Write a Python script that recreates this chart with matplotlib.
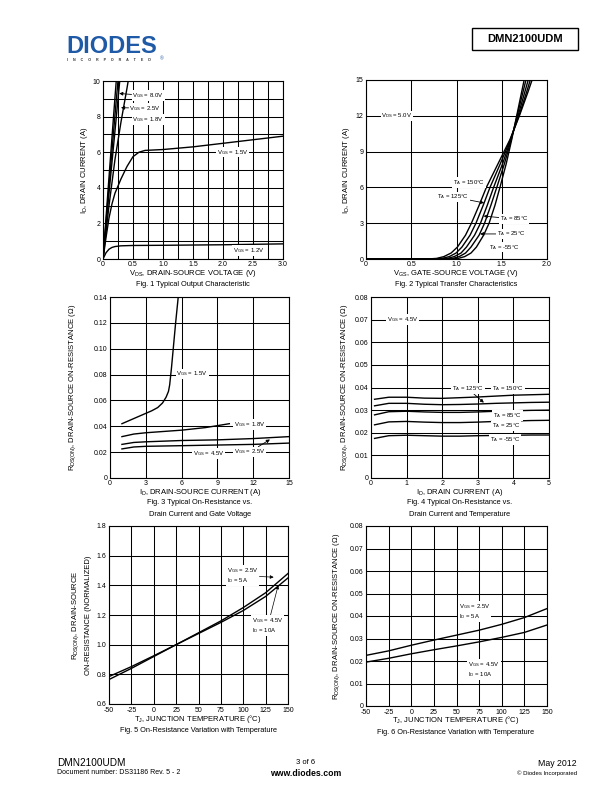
import matplotlib
matplotlib.use('Agg')
import matplotlib.pyplot as plt
from matplotlib.patches import Rectangle
from matplotlib.lines import Line2D
import numpy as np

plt.rcParams['font.family'] = ['Liberation Sans', 'DejaVu Sans']
plt.rcParams['mathtext.fontset'] = 'custom'
plt.rcParams['mathtext.rm'] = 'Liberation Sans'
plt.rcParams['mathtext.it'] = 'Liberation Sans:italic'
plt.rcParams['mathtext.bf'] = 'Liberation Sans:bold'

W, H = 612, 792

# ---- Fig 1: output characteristic (VDS in V, ID in A)
vds_8v0 = [0, 0.1, 0.2, 0.23]
id_8v0 = [0, 4.6, 9.1, 10.4]
vds_4v5 = [0, 0.1, 0.2, 0.26]
id_4v5 = [0, 4.1, 8.1, 10.4]
vds_2v5 = [0, 0.1, 0.2, 0.29]
id_2v5 = [0, 3.7, 7.2, 10.4]
vds_1v8 = [0, 0.1, 0.2, 0.3, 0.4, 0.44]
id_1v8 = [0, 3.0, 5.6, 7.7, 9.6, 10.4]
vds_1v5 = [0, 0.05, 0.1, 0.15, 0.2, 0.3, 0.4, 0.5, 0.6, 0.7, 1.0, 1.5, 2.0, 2.5, 3.0]
id_1v5 = [0, 1.2, 2.3, 3.1, 3.7, 4.5, 5.2, 5.75, 6.0, 6.1, 6.15, 6.3, 6.5, 6.7, 6.9]
vds_1v2 = [0, 0.05, 0.1, 0.15, 0.2, 0.3, 0.5, 1.0, 2.0, 3.0]
id_1v2 = [0, 0.35, 0.55, 0.65, 0.7, 0.74, 0.76, 0.77, 0.8, 0.85]

# ---- Fig 2: transfer characteristic (VGS in V at given ID)
id_levels = [0, 0, 0.05, 0.2, 0.5, 1, 2, 3, 4.5, 6, 8, 10, 12, 14, 16]
vgs_150c = [0, 0.68, 0.78, 0.86, 0.94, 1.01, 1.10, 1.165, 1.25, 1.33, 1.46, 1.59, 1.695, 1.79, 1.88]
vgs_125c = [0, 0.74, 0.84, 0.92, 0.995, 1.06, 1.15, 1.215, 1.295, 1.37, 1.485, 1.595, 1.69, 1.775, 1.855]
vgs_85c = [0, 0.80, 0.90, 0.975, 1.05, 1.11, 1.20, 1.265, 1.34, 1.41, 1.51, 1.60, 1.68, 1.755, 1.83]
vgs_25c = [0, 0.86, 0.96, 1.03, 1.10, 1.16, 1.25, 1.31, 1.38, 1.445, 1.53, 1.605, 1.67, 1.735, 1.80]
vgs_m55c = [0, 0.92, 1.02, 1.09, 1.16, 1.22, 1.30, 1.36, 1.425, 1.48, 1.55, 1.61, 1.665, 1.72, 1.775]

# ---- Fig 3: RDS(ON) vs ID for several VGS
id3_1v5 = [1, 2, 3, 3.5, 4, 4.4, 4.7, 4.9, 5.0, 5.15, 5.3, 5.5, 5.75]
rds3_1v5 = [0.042, 0.046, 0.050, 0.052, 0.0545, 0.058, 0.0625, 0.067, 0.072, 0.085, 0.100, 0.120, 0.143]
id3_1v8 = [1, 2, 3, 6, 8, 10]
rds3_1v8 = [0.032, 0.034, 0.035, 0.037, 0.039, 0.042]
id3 = [1, 2, 3, 6, 9, 12, 15]
rds3_2v5 = [0.026, 0.0275, 0.028, 0.029, 0.0295, 0.0305, 0.032]
rds3_4v5 = [0.0225, 0.024, 0.0245, 0.025, 0.0255, 0.026, 0.027]

# ---- Fig 4: RDS(ON) vs ID for several TA
id4 = [0.1, 0.5, 1, 1.5, 2, 2.5, 3, 3.5, 4, 4.5, 5]
rds4_150c = [0.0348, 0.0357, 0.0357, 0.0353, 0.0352, 0.0355, 0.0358, 0.0362, 0.0366, 0.0368, 0.037]
rds4_125c = [0.0319, 0.033, 0.033, 0.0326, 0.0324, 0.0325, 0.0327, 0.033, 0.0332, 0.0334, 0.0335]
rds4_85c = [0.0279, 0.0293, 0.0295, 0.0292, 0.029, 0.029, 0.0292, 0.0295, 0.0297, 0.0299, 0.030]
rds4_25c = [0.0235, 0.0248, 0.025, 0.0247, 0.0245, 0.0245, 0.0247, 0.025, 0.0252, 0.0254, 0.0255]
rds4_m55c = [0.0175, 0.0187, 0.0189, 0.0187, 0.0185, 0.0185, 0.0187, 0.0188, 0.0189, 0.019, 0.019]

# ---- Fig 5 / 6: vs junction temperature
tj = [-50, -25, 0, 25, 50, 75, 100, 125, 150]
norm_2v5_5a = [0.785, 0.852, 0.925, 1.0, 1.08, 1.16, 1.25, 1.35, 1.48]
norm_4v5_10a = [0.765, 0.84, 0.92, 1.0, 1.075, 1.15, 1.23, 1.325, 1.45]
rds6_2v5_5a = [0.0225, 0.0245, 0.027, 0.0293, 0.0315, 0.0337, 0.0363, 0.0393, 0.0433]
rds6_4v5_10a = [0.0195, 0.0212, 0.0232, 0.025, 0.0267, 0.0285, 0.0305, 0.0327, 0.036]


def sub(s):
    return r'$_{\mathrm{' + s + '}}$'


def fx(x):
    return x / W


def fy(y):
    return 1 - y / H


fig = plt.figure(figsize=(W / 100, H / 100), dpi=100)


def add_ax(l, t, r, b):
    return fig.add_axes([fx(l), fy(b), (r - l) / W, (b - t) / H])


def setup(ax, xlim, ylim, xt, xl, yt, yl):
    ax.set_xlim(*xlim)
    ax.set_ylim(*ylim)
    ax.set_xticks(xt)
    ax.set_xticklabels(xl)
    ax.set_yticks(yt)
    ax.set_yticklabels(yl)
    ax.tick_params(length=0, labelsize=5, pad=1.8)
    ax.grid(True, color='black', lw=0.75)
    ax.set_axisbelow(True)
    for sp in ax.spines.values():
        sp.set_linewidth(0.8)


def every_other(vals, fmt):
    return [fmt(v) if i % 2 == 0 else '' for i, v in enumerate(vals)]


LW = 1.0
box = dict(facecolor='white', edgecolor='none', pad=0.6)
arr = dict(arrowstyle='-|>', lw=0.6, color='black', mutation_scale=5, shrinkA=0, shrinkB=0)
AF = 4.3


def label(ax, txt, xy, xytext=None, ha='left'):
    if xytext is None:
        ax.text(xy[0], xy[1], txt, fontsize=AF, ha=ha, va='center', bbox=box, zorder=4)
    else:
        ax.annotate(txt, xy=xy, xytext=xytext, fontsize=AF, ha=ha, va='center',
                    bbox=box, arrowprops=arr, zorder=4)


def ftxt(x, y, s, size=5.5, **kw):
    fig.text(fx(x), fy(y), s, fontsize=size, ha=kw.pop('ha', 'center'),
             va=kw.pop('va', 'center'), **kw)


# Fig 1
ax1 = add_ax(103, 81, 283, 259)
xt = np.arange(0, 3.01, 0.25)
yt = np.arange(0, 10.1, 1)
setup(ax1, (0, 3), (0, 10), xt,
      every_other(xt, lambda v: '0' if v == 0 else '%.1f' % v),
      yt, every_other(yt, lambda v: '%d' % v))
for x, y in [(vds_8v0, id_8v0), (vds_4v5, id_4v5), (vds_2v5, id_2v5),
             (vds_1v8, id_1v8), (vds_1v5, id_1v5), (vds_1v2, id_1v2)]:
    ax1.plot(x, y, color='black', lw=LW)
label(ax1, 'V' + sub('GS') + ' = 8.0V', (0.27, 9.3), (0.49, 9.17))
label(ax1, 'V' + sub('GS') + ' = 2.5V', (0.30, 8.5), (0.44, 8.47))
label(ax1, 'V' + sub('GS') + ' = 1.8V', (0.49, 7.85))
label(ax1, 'V' + sub('GS') + ' = 1.5V', (1.9, 6.0))
label(ax1, 'V' + sub('GS') + ' = 1.2V', (2.17, 0.49))
ftxt(85, 170, 'I' + sub('D') + ', DRAIN CURRENT (A)', rotation=90)
ftxt(193, 273.5, 'V' + sub('DS') + ', DRAIN-SOURCE VOLTAGE (V)')
ftxt(193, 285, 'Fig. 1 Typical Output Characteristic', 5.3)

# Fig 2
ax2 = add_ax(366, 80, 547, 259)
xt = np.arange(0, 2.01, 0.5)
yt = np.arange(0, 15.1, 3)
setup(ax2, (0, 2), (0, 15), xt, ['0' if v == 0 else '%.1f' % v for v in xt],
      yt, ['%d' % v for v in yt])
for v in [vgs_150c, vgs_125c, vgs_85c, vgs_25c, vgs_m55c]:
    ax2.plot(v, id_levels, color='black', lw=LW)
label(ax2, 'V' + sub('DS') + ' = 5.0V', (0.17, 12.0))
label(ax2, 'T' + sub('A') + ' = 150°C', (0.96, 6.4))
label(ax2, 'T' + sub('A') + ' = 125°C', (1.305, 4.7), (0.79, 5.2))
label(ax2, 'T' + sub('A') + ' = 85°C', (1.30, 3.6), (1.48, 3.35))
label(ax2, 'T' + sub('A') + ' = 25°C', (1.26, 2.1), (1.45, 2.1))
label(ax2, 'T' + sub('A') + ' = -55°C', (1.36, 1.0))
ftxt(346, 170, 'I' + sub('D') + ', DRAIN CURRENT (A)', rotation=90)
ftxt(456, 273.5, 'V' + sub('GS') + ', GATE-SOURCE VOLTAGE (V)')
ftxt(456, 285, 'Fig. 2 Typical Transfer Characteristics', 5.3)

# Fig 3
ax3 = add_ax(110, 297, 289, 478)
xt = np.arange(0, 15.1, 3)
yt = np.arange(0, 0.141, 0.02)
setup(ax3, (0, 15), (0, 0.14), xt, ['%d' % v for v in xt],
      yt, ['0' if v == 0 else '%.2f' % v for v in yt])
for x, y in [(id3_1v5, rds3_1v5), (id3_1v8, rds3_1v8), (id3, rds3_2v5), (id3, rds3_4v5)]:
    ax3.plot(x, y, color='black', lw=LW)
label(ax3, 'V' + sub('GS') + ' = 1.5V', (5.57, 0.0805))
label(ax3, 'V' + sub('GS') + ' = 1.8V', (10.4, 0.0412))
label(ax3, 'V' + sub('GS') + ' = 2.5V', (13.4, 0.0298), (10.4, 0.0201))
label(ax3, 'V' + sub('GS') + ' = 4.5V', (6.96, 0.0188))
rlab = 'R' + sub('DS(ON)') + ', DRAIN-SOURCE ON-RESISTANCE (Ω)'
ftxt(73, 387, rlab, rotation=90)
ftxt(200, 492, 'I' + sub('D') + ', DRAIN-SOURCE CURRENT (A)')
ftxt(200, 503, 'Fig. 3 Typical On-Resistance vs.', 5.3)
ftxt(200, 514, 'Drain Current and Gate Voltage', 5.3)

# Fig 4
ax4 = add_ax(371, 297, 549, 478)
xt = np.arange(0, 5.1, 1)
yt = np.arange(0, 0.081, 0.01)
setup(ax4, (0, 5), (0, 0.08), xt, ['%d' % v for v in xt],
      yt, ['0' if v == 0 else '%.2f' % v for v in yt])
for y in [rds4_150c, rds4_125c, rds4_85c, rds4_25c, rds4_m55c]:
    ax4.plot(id4, y, color='black', lw=LW)
label(ax4, 'V' + sub('GS') + ' = 4.5V', (0.45, 0.070))
label(ax4, 'T' + sub('A') + ' = 125°C', (3.17, 0.0333), (2.27, 0.0395))
label(ax4, 'T' + sub('A') + ' = 150°C', (3.4, 0.0395))
label(ax4, 'T' + sub('A') + ' = 85°C', (3.43, 0.0277))
label(ax4, 'T' + sub('A') + ' = 25°C', (3.39, 0.023))
label(ax4, 'T' + sub('A') + ' = -55°C', (3.34, 0.0169))
ftxt(345, 387, rlab, rotation=90)
ftxt(460, 492, 'I' + sub('D') + ', DRAIN CURRENT (A)')
ftxt(460, 503, 'Fig. 4 Typical On-Resistance vs.', 5.3)
ftxt(460, 514, 'Drain Current and Temperature', 5.3)

# Fig 5
ax5 = add_ax(109, 526, 288, 704)
xt = np.arange(-50, 151, 25)
yt = np.arange(0.6, 1.81, 0.2)
setup(ax5, (-50, 150), (0.6, 1.8), xt, ['%d' % v for v in xt],
      yt, ['%.1f' % v for v in yt])
ax5.plot(tj, norm_2v5_5a, color='black', lw=LW)
ax5.plot(tj, norm_4v5_10a, color='black', lw=LW)
ax5.annotate('V' + sub('GS') + ' = 2.5V\nI' + sub('D') + ' = 5A', xy=(134, 1.455),
             xytext=(82, 1.465), fontsize=AF, ha='left', va='center', bbox=box,
             arrowprops=dict(arr, lw=0.5), zorder=4)
ax5.annotate('V' + sub('GS') + ' = 4.5V\nI' + sub('D') + ' = 10A', xy=(139, 1.40),
             xytext=(110, 1.13), fontsize=AF, ha='left', va='center', bbox=box,
             arrowprops=dict(arr, lw=0.5), zorder=4)
ftxt(76, 615, 'R' + sub('DS(ON)') + ', DRAIN-SOURCE', rotation=90)
ftxt(88, 615, 'ON-RESISTANCE (NORMALIZED)', rotation=90)
ftxt(198, 719, 'T' + sub('J') + ', JUNCTION TEMPERATURE (°C)')
ftxt(198, 731, 'Fig. 5 On-Resistance Variation with Temperature', 5.3)

# Fig 6
ax6 = add_ax(366, 526, 547, 706)
yt = np.arange(0, 0.081, 0.01)
setup(ax6, (-50, 150), (0, 0.08), xt, ['%d' % v for v in xt],
      yt, ['0' if v == 0 else '%.2f' % v for v in yt])
ax6.plot(tj, rds6_2v5_5a, color='black', lw=LW)
ax6.plot(tj, rds6_4v5_10a, color='black', lw=LW)
ax6.text(53, 0.042, 'V' + sub('GS') + ' = 2.5V\nI' + sub('D') + ' = 5A', fontsize=AF,
         ha='left', va='center', bbox=box, zorder=4)
ax6.text(63, 0.0162, 'V' + sub('GS') + ' = 4.5V\nI' + sub('D') + ' = 10A', fontsize=AF,
         ha='left', va='center', bbox=box, zorder=4)
ftxt(337, 616, rlab, rotation=90)
ftxt(456, 720.5, 'T' + sub('J') + ', JUNCTION TEMPERATURE (°C)')
ftxt(456, 732, 'Fig. 6 On-Resistance Variation with Temperature', 5.3)

# header
fig.text(fx(66), fy(53), 'DIODES', fontsize=17, fontweight='bold', color='#1f5aa6',
         ha='left', va='baseline')
fig.add_artist(Line2D([fx(65), fx(164)], [fy(44), fy(44)], color='white', lw=0.9))
ftxt(67, 60, '     '.join('INCORPORATED'), 2.6, ha='left', fontweight='bold',
     color='#333333')
ftxt(162, 59, '®', 3.5, color='#1f5aa6')
fig.add_artist(Rectangle((fx(472), fy(50)), 106 / W, 22 / H, fill=False, lw=1.0,
                         edgecolor='black', transform=fig.transFigure))
ftxt(525, 39.5, 'DMN2100UDM', 8, fontweight='bold')

# footer
ftxt(57, 763, 'DMN2100UDM', 7.2, ha='left')
ftxt(57, 773, 'Document number: DS31186 Rev. 5 - 2', 5, ha='left')
ftxt(306, 763, '3 of 6', 5.5)
ftxt(306, 773, 'www.diodes.com', 6.3, fontweight='bold')
ftxt(577, 763, 'May 2012', 6.3, ha='right')
ftxt(577, 773, '© Diodes Incorporated', 4.3, ha='right')

fig.savefig('out.png', dpi=100)
